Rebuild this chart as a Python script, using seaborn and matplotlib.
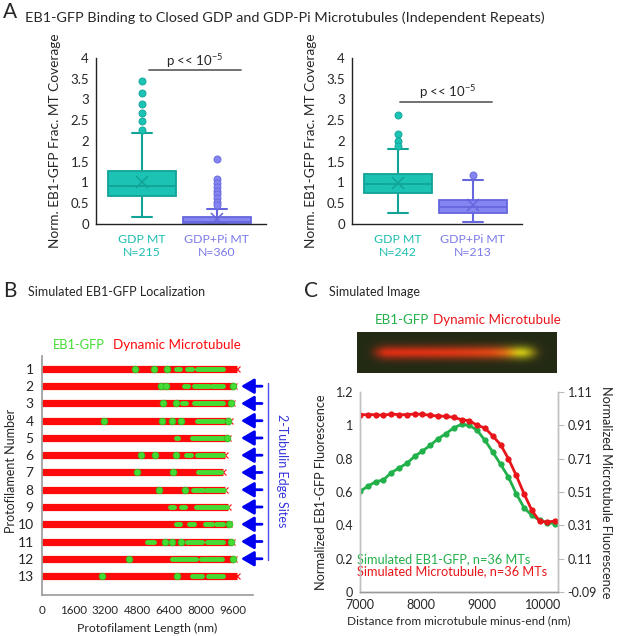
import numpy as np
import matplotlib
matplotlib.use("Agg")
import matplotlib.pyplot as plt
import seaborn as sns

# ---- Panel A: box plot statistics ----
a_groups = ["GDP MT", "GDP+Pi MT"]

a1_n = [215, 360]
a1_q1 = [0.675, 0.03]
a1_med = [0.915, 0.06]
a1_q3 = [1.285, 0.16]
a1_lo = [0.16, 0.0]
a1_hi = [2.20, 0.354]
a1_mean = [1.01, 0.13]
a1_out = [[3.45, 3.15, 2.89, 2.68, 2.48, 2.27],
          [1.566, 1.084, 0.98, 0.90, 0.80, 0.715, 0.634, 0.54, 0.458]]

a2_n = [242, 213]
a2_q1 = [0.755, 0.26]
a2_med = [0.955, 0.40]
a2_q3 = [1.20, 0.59]
a2_lo = [0.26, 0.045]
a2_hi = [1.80, 1.05]
a2_mean = [0.99, 0.455]
a2_out = [[2.63, 2.16, 2.0, 1.88], [1.19]]

# ---- Panel B: simulated protofilaments ----
pf_numbers = list(range(1, 14))
pf_lengths = [9814, 9679, 9578, 9477, 9393, 9225, 9106, 9225, 9359, 9443, 9578, 9679, 9814]
# EB1 sites per protofilament as (start, end) in nm; single dots have start == end
eb1_sites = [
    [(4680, 4680), (5640, 5640), (6313, 6313), (6734, 6953), (7289, 7542), (7794, 9140)],
    [(5976, 5976), (6246, 6246), (7154, 7373), (7676, 8433), (8551, 9140), (9611, 9611)],
    [(6111, 6111), (6734, 6734), (7070, 7256), (7659, 9140), (9527, 9527)],
    [(3115, 3115), (6061, 6061), (6532, 6532), (7003, 7003), (7794, 9140), (9393, 9393)],
    [(6734, 6868), (7541, 9140), (9309, 9309)],
    [(4983, 4983), (5690, 5690), (6734, 6734), (7238, 7508), (7794, 9140)],
    [(4798, 4798), (6582, 6582), (7844, 9022)],
    [(5875, 5875), (7188, 7188), (7626, 8097), (8265, 9174)],
    [(6448, 6650), (6986, 7222), (7743, 9309)],
    [(6734, 6953), (7390, 7659), (8215, 8585), (8770, 9140), (9410, 9410)],
    [(5269, 5640), (6178, 6178), (6565, 6565), (6986, 6986), (7289, 8080), (8299, 9140), (9527, 9527)],
    [(4394, 4394), (6532, 7743), (7996, 9090), (9611, 9611)],
    [(3031, 3031), (6818, 6818), (7575, 8080), (8366, 9140)],
]
edge_rows = [2, 3, 4, 5, 6, 7, 8, 9, 10, 11, 12]

# ---- Panel C: line profiles ----
c_dist = [7000, 7128, 7256, 7384, 7512, 7640, 7768, 7896, 8024, 8152, 8280, 8408, 8536,
          8664, 8792, 8920, 9048, 9176, 9304, 9432, 9560, 9688, 9816, 9944, 10072, 10200]
c_eb1 = [0.604, 0.634, 0.662, 0.672, 0.716, 0.744, 0.772, 0.814, 0.846, 0.880, 0.920, 0.950, 0.985,
         1.006, 1.000, 0.970, 0.910, 0.840, 0.766, 0.690, 0.590, 0.506, 0.460, 0.430, 0.415, 0.410]
c_mt = [0.974, 0.974, 0.974, 0.970, 0.978, 0.974, 0.974, 0.978, 0.976, 0.970, 0.966, 0.964, 0.958,
        0.944, 0.938, 0.910, 0.894, 0.846, 0.794, 0.710, 0.610, 0.500, 0.400, 0.334, 0.330, 0.336]

# simulated image: intensity along the microtubule (nm from minus end)
img_pos = [-1000, -500, 0, 500, 1000, 1500, 2000, 2500, 3000, 3500, 4000, 4500, 5000,
           5500, 6000, 6500, 7000, 7500, 8000, 8500, 9000, 9500, 10000, 10500, 11000, 11500]
img_red = [0, 0, 0.4, 0.9, 0.92, 0.92, 0.92, 0.92, 0.92, 0.92, 0.92, 0.92, 0.92,
           0.92, 0.92, 0.92, 0.92, 0.92, 0.9, 0.88, 0.84, 0.8, 0.5, 0.08, 0, 0]
img_green = [0, 0, 0.0, 0.02, 0.02, 0.02, 0.03, 0.03, 0.03, 0.04, 0.04, 0.05, 0.06,
             0.07, 0.08, 0.1, 0.12, 0.16, 0.24, 0.4, 0.68, 0.78, 0.42, 0.04, 0, 0]
img_rows = [0, 0, 0.08, 0.45, 1, 0.45, 0.08, 0, 0]
img_bg = (0.14, 0.165, 0.08)

TEAL, TEAL_E, TEAL_T = "#1cc2b4", "#10a396", "#1dbdb0"
PURP, PURP_E, PURP_T = "#8585f2", "#6666dd", "#7b7bea"
RED_B, GREEN_B = "#ff0a0a", "#44dd33"
RED_C, GREEN_C = "#e8161b", "#22b04b"

sns.set_style("white")
plt.rcParams["font.family"] = ["Lato", "DejaVu Sans"]
plt.rcParams["mathtext.fontset"] = "custom"
plt.rcParams["mathtext.rm"] = "Lato"
plt.rcParams["mathtext.default"] = "regular"

W, H = 617, 636
fig = plt.figure(figsize=(W / 100, H / 100), dpi=100)


def px_axes(x0, y0, x1, y1):
    return fig.add_axes([x0 / W, 1 - y1 / H, (x1 - x0) / W, (y1 - y0) / H])


def px_text(x, y, s, **kw):
    fig.text(x / W, 1 - y / H, s, va="center", **kw)


def box_panel(ax, n, q1, med, q3, lo, hi, mean, out, sig_y, sig_x, text_y, text_x):
    faces = [TEAL, PURP]
    edges = [TEAL_E, PURP_E]
    for i in range(2):
        st = [dict(med=med[i], q1=q1[i], q3=q3[i], whislo=lo[i], whishi=hi[i],
                   mean=mean[i], fliers=[])]
        ax.bxp(st, positions=[i], widths=0.91, patch_artist=True, showmeans=True,
               showfliers=False, capwidths=[0.27],
               boxprops=dict(facecolor=faces[i], edgecolor=edges[i], lw=1.3),
               medianprops=dict(color=edges[i], lw=1.3),
               whiskerprops=dict(color=edges[i], lw=1.5),
               capprops=dict(color=edges[i], lw=1.5),
               meanprops=dict(marker="x", markersize=9, markeredgecolor=edges[i],
                              markeredgewidth=1.1))
        sns.scatterplot(x=[i] * len(out[i]), y=out[i], ax=ax, color=faces[i], s=26,
                        edgecolor=edges[i], linewidth=0.6, zorder=4)
    ax.set_xlim(-0.61, 1.655)
    ax.set_ylim(0, 4)
    ax.set_yticks(np.arange(0, 4.01, 0.5))
    ax.set_yticklabels(["0", "0.5", "1", "1.5", "2", "2.5", "3", "3.5", "4"])
    ax.set_xticks([0, 1])
    ax.set_xticklabels([f"{a_groups[0]}\nN={n[0]}", f"{a_groups[1]}\nN={n[1]}"])
    for lab, col in zip(ax.get_xticklabels(), [TEAL_T, PURP_T]):
        lab.set_color(col)
    ax.tick_params(axis="y", length=0, labelsize=9.5, pad=5)
    ax.tick_params(axis="x", length=0, labelsize=8.8, pad=7)
    for s in ["top", "right"]:
        ax.spines[s].set_visible(False)
    for s in ["left", "bottom"]:
        ax.spines[s].set_color("#222222")
        ax.spines[s].set_linewidth(1.0)
    ax.set_ylabel("Norm. EB1-GFP Frac. MT Coverage", fontsize=9.8, labelpad=7)
    ax.plot(sig_x, [sig_y, sig_y], color="#666666", lw=1.3)
    ax.text(text_x, text_y, "p << 10$^{-5}$", ha="center", va="center", fontsize=9.5)


# ---- Panel A ----
px_text(3, 12, "A", fontsize=15)
px_text(25, 18, "EB1-GFP Binding to Closed GDP and GDP-Pi Microtubules (Independent Repeats)",
        fontsize=10.4)
ax_a1 = px_axes(96, 58, 266, 224)
box_panel(ax_a1, a1_n, a1_q1, a1_med, a1_q3, a1_lo, a1_hi, a1_mean, a1_out,
          3.71, [0.09, 1.32], 3.92, 0.71)
ax_a2 = px_axes(352, 58, 522, 224)
box_panel(ax_a2, a2_n, a2_q1, a2_med, a2_q3, a2_lo, a2_hi, a2_mean, a2_out,
          2.95, [0.03, 1.26], 3.17, 0.66)

# ---- Panel B ----
px_text(3, 291, "B", fontsize=15)
px_text(28, 292, "Simulated EB1-GFP Localization", fontsize=9)
px_text(53, 345, "EB1-GFP", fontsize=9.3, color=GREEN_B)
px_text(113, 345, "Dynamic Microtubule", fontsize=9.6, color=RED_B)
ax_b = px_axes(42, 356, 253, 595)
for row, length, sites in zip(pf_numbers, pf_lengths, eb1_sites):
    ax_b.plot([0, length], [row, row], color=RED_B, lw=5.2, solid_capstyle="butt", zorder=2)
    ax_b.plot([0, length], [row, row], ls="none", marker="x", ms=5, mew=0.8,
              color=RED_B, zorder=2)
    for a, b in sites:
        if a == b:
            ax_b.plot([a], [row], marker="o", ms=4.8, color=GREEN_B,
                      mec="#33bb22", mew=0.6, zorder=3)
        else:
            ax_b.plot([a, b], [row, row], color=GREEN_B, lw=3.5,
                      solid_capstyle="round", zorder=3)
for row in edge_rows:
    ax_b.annotate("", xy=(10030, row), xytext=(11090, row), annotation_clip=False,
                  arrowprops=dict(arrowstyle="-|>,head_length=0.55,head_width=0.32",
                                  color="#0000f0", lw=2.0, mutation_scale=14,
                                  shrinkA=0, shrinkB=0))
ax_b.plot([11393, 11393], [1.81, 12.07], color="#4a4aee", lw=1.0, clip_on=False)
ax_b.text(12100, 6.9, "2-Tubulin Edge Sites", rotation=-90, color="#3535dd",
          ha="center", va="center", fontsize=9, clip_on=False)
ax_b.set_xlim(0, 10636)
ax_b.set_ylim(14.1, 0.25)
ax_b.set_yticks(pf_numbers)
ax_b.set_xticks([0, 1600, 3200, 4800, 6400, 8000, 9600])
ax_b.tick_params(axis="y", length=0, labelsize=10, pad=6)
ax_b.tick_params(axis="x", direction="in", length=3, color="#888888", labelsize=8.4, pad=7)
for s in ["top", "right"]:
    ax_b.spines[s].set_visible(False)
for s in ["left", "bottom"]:
    ax_b.spines[s].set_color("#999999")
    ax_b.spines[s].set_linewidth(1.2)
ax_b.set_ylabel("Protofilament Number", fontsize=9)
ax_b.yaxis.set_label_coords(-0.118, 0.52)
ax_b.set_xlabel("Protofilament Length (nm)", fontsize=8.8, labelpad=5)

# ---- Panel C ----
px_text(304, 291, "C", fontsize=15)
px_text(329, 292, "Simulated Image", fontsize=9)
px_text(375, 320, "EB1-GFP", fontsize=9.6, color=GREEN_C)
px_text(433, 320, "Dynamic Microtubule", fontsize=9.6, color=RED_C)

ax_img = px_axes(356, 332, 557, 373)
prof = np.array(img_rows)[:, None]
img = np.zeros((len(img_rows), len(img_pos), 3))
img[..., 0] = img_bg[0] + prof * np.array(img_red)[None, :]
img[..., 1] = img_bg[1] + prof * np.array(img_green)[None, :]
img[..., 2] = img_bg[2]
img = np.clip(img, 0, 1)
ax_img.imshow(img, extent=(img_pos[0] - 250, img_pos[-1] + 250, 0, 1), aspect="auto",
              interpolation="bicubic")
ax_img.set_xlim(-1335, 11650)
ax_img.axis("off")

ax_c = px_axes(360, 392, 558, 592)
sns.lineplot(x=c_dist, y=c_eb1, ax=ax_c, color=GREEN_C, lw=2.0, marker="o", ms=4.5,
             markeredgecolor=GREEN_C, markeredgewidth=0)
ax_c2 = ax_c.twinx()
sns.lineplot(x=c_dist, y=c_mt, ax=ax_c2, color=RED_C, lw=2.0, marker="o", ms=4.5,
             markeredgecolor=RED_C, markeredgewidth=0)
ax_c.set_xlim(7000, 10245)
ax_c.set_ylim(0, 1.2)
ax_c2.set_ylim(-0.09, 1.11)
ax_c.set_yticks([0, 0.2, 0.4, 0.6, 0.8, 1.0, 1.2])
ax_c.set_yticklabels(["0", "0.2", "0.4", "0.6", "0.8", "1", "1.2"])
ax_c2.set_yticks([-0.09, 0.11, 0.31, 0.51, 0.71, 0.91, 1.11])
ax_c2.set_yticklabels(["-0.09", "0.11", "0.31", "0.51", "0.71", "0.91", "1.11"])
ax_c.set_xticks([7000, 8000, 9000, 10000])
ax_c.tick_params(axis="both", length=0, labelsize=9, pad=5)
ax_c2.tick_params(axis="y", length=4, color="#bbbbbb", labelsize=9, pad=3)
for a in (ax_c, ax_c2):
    a.spines["top"].set_visible(False)
    for s in ["left", "right", "bottom"]:
        a.spines[s].set_color("#c0c0c0")
        a.spines[s].set_linewidth(1.0)
ax_c2.spines["bottom"].set_color("#999999")
ax_c.spines["bottom"].set_color("#999999")
ax_c.set_ylabel("Normalized EB1-GFP Fluorescence", fontsize=9.2, labelpad=6)
ax_c2.set_ylabel("Normalized Microtubule Fluorescence", fontsize=9.2, rotation=-90,
                 labelpad=11)
ax_c.set_xlabel("Distance from microtubule minus-end (nm)", fontsize=8.6, labelpad=3)
ax_c.text(6955, 0.200, "Simulated EB1-GFP, n=36 MTs", color=GREEN_C, fontsize=9.2,
          va="center")
ax_c.text(6955, 0.128, "Simulated Microtubule, n=36 MTs", color=RED_C, fontsize=9.2,
          va="center")

fig.savefig("out.png", dpi=100)
